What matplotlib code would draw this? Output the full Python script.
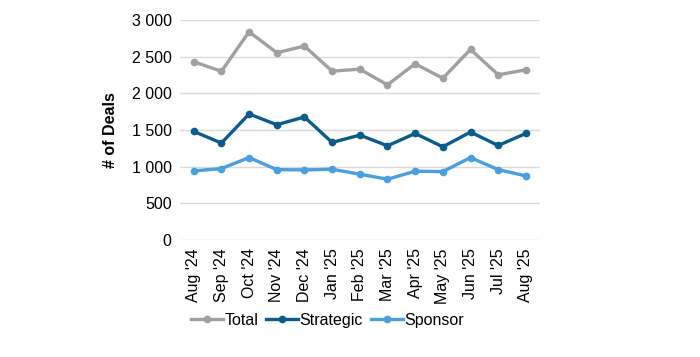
import matplotlib
matplotlib.use("Agg")
import matplotlib.pyplot as plt
from matplotlib.ticker import FuncFormatter

plt.rcParams['font.family'] = ['Liberation Sans', 'DejaVu Sans']

months = ["Aug '24", "Sep '24", "Oct '24", "Nov '24", "Dec '24", "Jan '25", "Feb '25",
          "Mar '25", "Apr '25", "May '25", "Jun '25", "Jul '25", "Aug '25"]
total = [2430, 2300, 2840, 2553, 2644, 2302, 2329, 2115, 2403, 2205, 2599, 2252, 2320]
strategic = [1480, 1321, 1718, 1571, 1677, 1329, 1430, 1284, 1452, 1270, 1471, 1288, 1452]
sponsor = [941, 973, 1123, 959, 955, 964, 896, 828, 937, 932, 1123, 959, 873]

fig = plt.figure(figsize=(7, 3.57), dpi=100)
ax = fig.add_axes([0.257, 0.328, 0.514, 0.616])

x = range(len(months))
ax.plot(x, total, color='#A0A0A0', lw=2.4, marker='o', ms=4.5, label='Total')
ax.plot(x, strategic, color='#0B5C8E', lw=2.4, marker='o', ms=4.5, label='Strategic')
ax.plot(x, sponsor, color='#4A9FE0', lw=2.4, marker='o', ms=4.5, label='Sponsor')

ax.set_ylim(0, 3000)
ax.set_yticks(range(0, 3001, 500))
ax.yaxis.set_major_formatter(FuncFormatter(lambda v, p: f"{int(v):,}".replace(",", " ")))
ax.set_xlim(-0.5, len(months) - 0.5)
ax.set_xticks(list(x))
ax.set_xticklabels(months, rotation=90)
ax.grid(axis='y', color='#D9D9D9', lw=1)
ax.set_axisbelow(True)
for s in ax.spines.values():
    s.set_visible(False)
ax.tick_params(length=0, labelsize=11.5, pad=6)
ax.set_ylabel('# of Deals', fontsize=11.5, fontweight='bold', labelpad=10)

ax.legend(loc='upper center', bbox_to_anchor=(0.41, -0.265), ncol=3, frameon=False,
          fontsize=11.5, handlelength=2.0, handletextpad=0.1, columnspacing=0.5)

fig.savefig('out.png', dpi=100)
